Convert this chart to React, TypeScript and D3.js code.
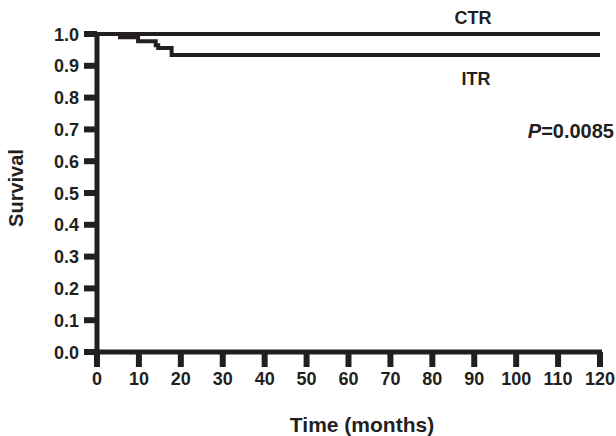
import { useEffect, useRef } from "react";
import * as d3 from "d3";

// Kaplan-Meier steps: [month, survival]
const CTR_STEPS: [number, number][] = [
  [0, 1.0],
  [120, 1.0],
];
const ITR_STEPS: [number, number][] = [
  [0, 1.0],
  [5.5, 0.99],
  [9.8, 0.977],
  [14.0, 0.965],
  [14.6, 0.956],
  [17.8, 0.934],
  [120, 0.934],
];
const X_TICKS = d3.range(0, 121, 10);
const Y_TICKS = d3.range(0, 11).map((d) => d / 10);
const INK = "#231f20";

export default function App() {
  const ref = useRef<SVGSVGElement>(null);

  useEffect(() => {
    if (!ref.current) return;
    const w = 616;
    const h = 436;
    const m = { top: 34, right: 15, bottom: 84, left: 97 };

    const svg = d3.select(ref.current);
    svg.selectAll("*").remove();
    svg.attr("width", w).attr("height", h).attr("viewBox", `0 0 ${w} ${h}`);

    const x = d3.scaleLinear().domain([0, 120]).range([m.left, w - m.right - 1]);
    const y = d3.scaleLinear().domain([0, 1]).range([h - m.bottom, m.top]);
    const font = "'Liberation Sans', Arial, sans-serif";

    // axes
    svg
      .append("line")
      .attr("x1", x(0))
      .attr("x2", x(120) + 2)
      .attr("y1", y(0))
      .attr("y2", y(0))
      .attr("stroke", INK)
      .attr("stroke-width", 5);
    svg
      .append("line")
      .attr("x1", x(0))
      .attr("x2", x(0))
      .attr("y1", y(0) + 2)
      .attr("y2", y(1) - 2)
      .attr("stroke", INK)
      .attr("stroke-width", 5);

    svg
      .selectAll(".xt")
      .data(X_TICKS)
      .join("line")
      .attr("x1", (d) => x(d))
      .attr("x2", (d) => x(d))
      .attr("y1", y(0))
      .attr("y2", y(0) + 15)
      .attr("stroke", INK)
      .attr("stroke-width", 6);
    svg
      .selectAll(".xl")
      .data(X_TICKS)
      .join("text")
      .attr("x", (d) => x(d))
      .attr("y", y(0) + 33)
      .attr("text-anchor", "middle")
      .attr("font-family", font)
      .attr("font-weight", "bold")
      .attr("font-size", 18)
      .attr("fill", INK)
      .text((d) => d);

    svg
      .selectAll(".yt")
      .data(Y_TICKS)
      .join("line")
      .attr("x1", x(0) - 13)
      .attr("x2", x(0))
      .attr("y1", (d) => y(d))
      .attr("y2", (d) => y(d))
      .attr("stroke", INK)
      .attr("stroke-width", 6);
    svg
      .selectAll(".yl")
      .data(Y_TICKS)
      .join("text")
      .attr("x", x(0) - 18)
      .attr("y", (d) => y(d) + 6.5)
      .attr("text-anchor", "end")
      .attr("font-family", font)
      .attr("font-weight", "bold")
      .attr("font-size", 18)
      .attr("fill", INK)
      .text((d) => d.toFixed(1));

    // survival curves
    const line = d3
      .line<[number, number]>()
      .x((d) => x(d[0]))
      .y((d) => y(d[1]))
      .curve(d3.curveStepAfter);
    [CTR_STEPS, ITR_STEPS].forEach((s) => {
      svg
        .append("path")
        .attr("d", line(s))
        .attr("fill", "none")
        .attr("stroke", INK)
        .attr("stroke-width", 4);
    });

    const label = (tx: number, ty: number, t: string, size = 18, anchor = "middle") =>
      svg
        .append("text")
        .attr("x", tx)
        .attr("y", ty)
        .attr("text-anchor", anchor)
        .attr("font-family", font)
        .attr("font-weight", "bold")
        .attr("font-size", size)
        .attr("fill", INK)
        .text(t);

    label(473, 24, "CTR");
    label(476, 85, "ITR");

    const p = svg
      .append("text")
      .attr("x", 614)
      .attr("y", 138)
      .attr("text-anchor", "end")
      .attr("font-family", font)
      .attr("font-weight", "bold")
      .attr("font-size", 20)
      .attr("fill", INK);
    p.append("tspan").attr("font-style", "italic").text("P");
    p.append("tspan").text("=0.0085");

    label(362, 432, "Time (months)", 21);
    label(0, 0, "Survival", 20).attr("transform", `translate(23,188) rotate(-90)`);
  }, []);

  return <svg ref={ref} style={{ position: "absolute", left: 0, top: 0 }} />;
}
